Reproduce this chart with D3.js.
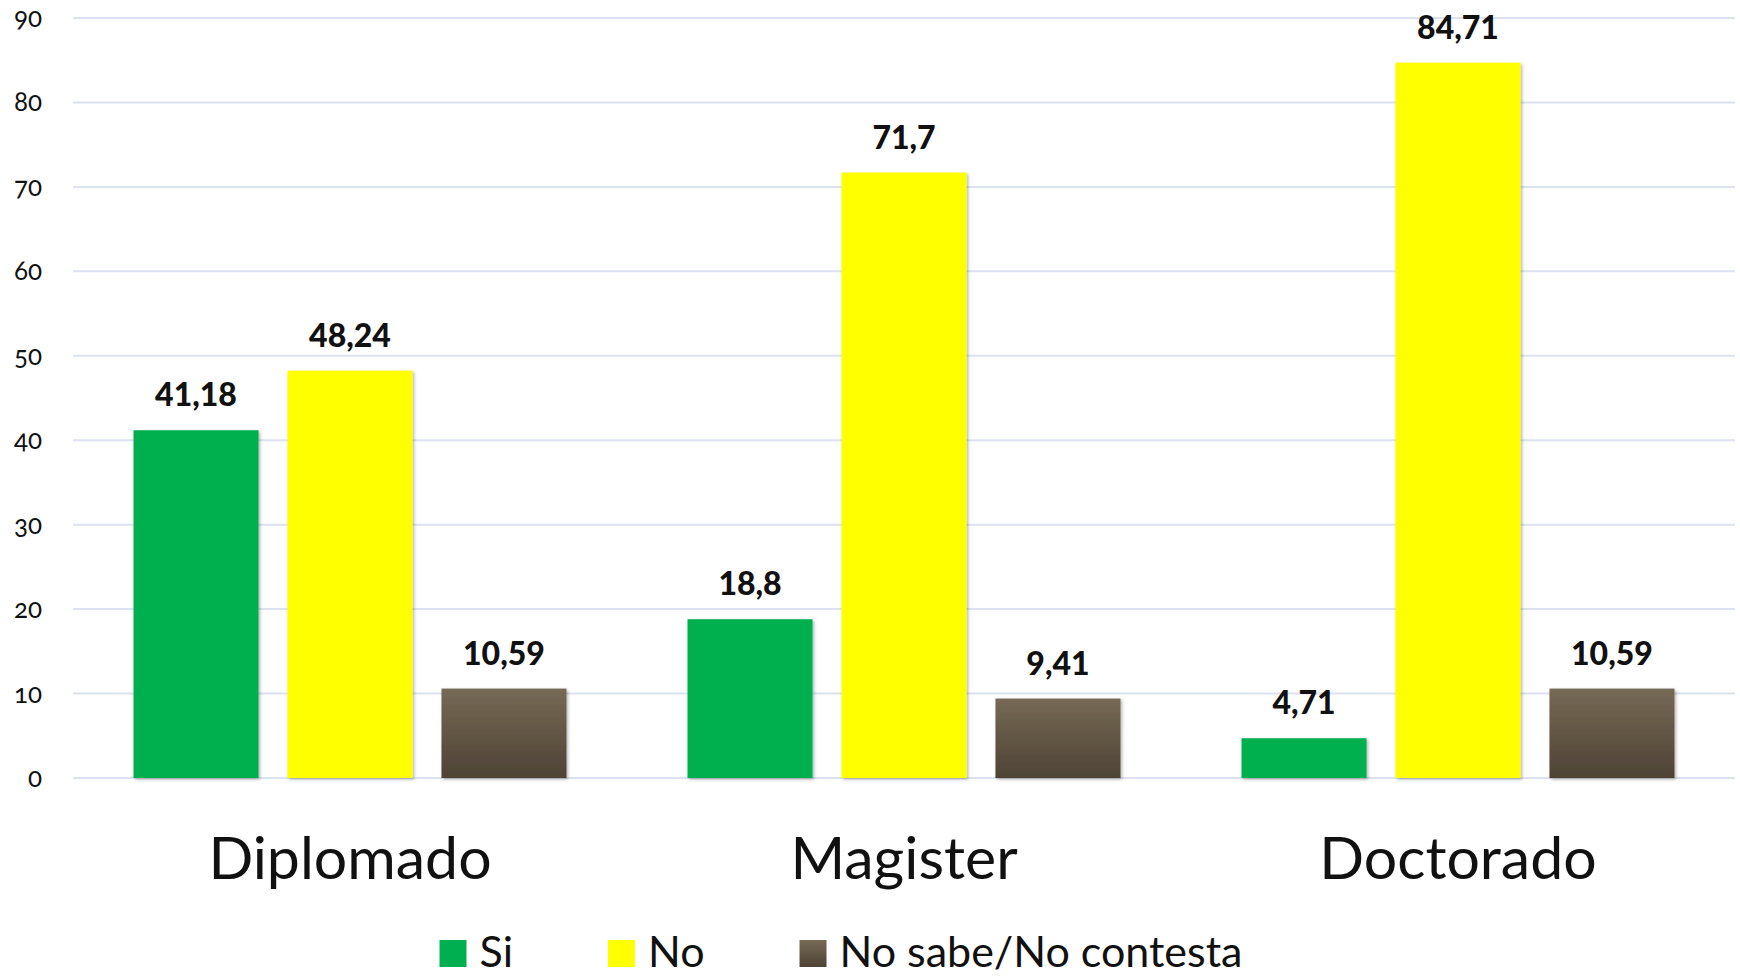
<!DOCTYPE html>
<html>
<head>
<meta charset="utf-8">
<script src="https://cdn.jsdelivr.net/npm/d3@7"></script>
<style>
  body { margin: 0; background: #fff; }
  svg { display: block; font-family: Lato, "Open Sans", sans-serif; }
  .tick-lbl { font-variant-numeric: oldstyle-nums; font-feature-settings: "onum"; }
</style>
</head>
<body>
<div id="chart"></div>
<script>
// données
const categories = ["Diplomado", "Magister", "Doctorado"];
const series = ["Si", "No", "No sabe/No contesta"];
const siValues = [41.18, 18.8, 4.71];
const noValues = [48.24, 71.7, 84.71];
const nsValues = [10.59, 9.41, 10.59];
const yTicks = [0, 10, 20, 30, 40, 50, 60, 70, 80, 90];

const W = 1740, H = 977;
const seriesValues = [siValues, noValues, nsValues];
const colors = ["#00B050", "#FFFF00", "url(#grad-ns)"];

const svg = d3.select("#chart").append("svg")
  .attr("width", W).attr("height", H);

const defs = svg.append("defs");
const grad = defs.append("linearGradient").attr("id", "grad-ns")
  .attr("x1", 0).attr("y1", 0).attr("x2", 0).attr("y2", 1);
grad.append("stop").attr("offset", "0%").attr("stop-color", "#766955");
grad.append("stop").attr("offset", "100%").attr("stop-color", "#4e4335");
const shadow = defs.append("filter").attr("id", "shadow")
  .attr("x", "-10%").attr("y", "-10%").attr("width", "130%").attr("height", "130%");
shadow.append("feDropShadow").attr("dx", 1.5).attr("dy", 1.5)
  .attr("stdDeviation", 1.5).attr("flood-color", "#000").attr("flood-opacity", 0.3);

// échelles
const y = d3.scaleLinear().domain([0, 90]).range([778, 18]);
const x0 = d3.scaleBand().domain(categories).range([73, 1735]).padding(0);
const x1 = d3.scaleBand().domain(series).range([0, x0.bandwidth()])
  .paddingInner(0.188).paddingOuter(0.393);

// grille
svg.append("g").selectAll("line")
  .data(yTicks).enter().append("line")
  .attr("x1", 73).attr("x2", 1735)
  .attr("y1", d => y(d)).attr("y2", d => y(d))
  .attr("stroke", "#dde2f0").attr("stroke-width", 2);

// étiquettes de l'axe y
svg.append("g").selectAll("text")
  .data(yTicks).enter().append("text")
  .attr("class", "tick-lbl")
  .attr("x", 42).attr("y", d => y(d) + 9)
  .attr("text-anchor", "end")
  .attr("font-size", 26).attr("fill", "#111")
  .text(d => d);

// barres
const groups = svg.append("g").selectAll("g")
  .data(categories).enter().append("g")
  .attr("transform", d => "translate(" + x0(d) + ",0)");

groups.selectAll("rect")
  .data((c, ci) => series.map((s, si) => ({ s: s, si: si, v: seriesValues[si][ci] })))
  .enter().append("rect")
  .attr("x", d => x1(d.s))
  .attr("y", d => y(d.v))
  .attr("width", x1.bandwidth())
  .attr("height", d => y(0) - y(d.v))
  .attr("fill", d => colors[d.si])
  .attr("filter", "url(#shadow)");

groups.selectAll("text")
  .data((c, ci) => series.map((s, si) => ({ s: s, si: si, v: seriesValues[si][ci] })))
  .enter().append("text")
  .attr("x", d => x1(d.s) + x1.bandwidth() / 2)
  .attr("y", d => y(d.v) - 24)
  .attr("text-anchor", "middle")
  .attr("font-size", 32).attr("font-weight", 900).attr("fill", "#111")
  .text(d => String(d.v).replace(".", ","));

// étiquettes des catégories
svg.append("g").selectAll("text")
  .data(categories).enter().append("text")
  .attr("x", d => x0(d) + x0.bandwidth() / 2)
  .attr("y", 879)
  .attr("text-anchor", "middle")
  .attr("font-size", 59).attr("fill", "#111")
  .text(d => d);

// légende
const legend = svg.append("g");
let lx = 0;
series.forEach((s, i) => {
  const item = legend.append("g").attr("transform", "translate(" + lx + ",0)");
  item.append("rect").attr("x", 0).attr("y", 940).attr("width", 27).attr("height", 27)
    .attr("fill", colors[i]);
  const t = item.append("text").attr("x", 40).attr("y", 967)
    .attr("font-size", 43).attr("fill", "#111").text(s);
  lx += 40 + t.node().getComputedTextLength() + 95;
});
const lw = lx - 95;
legend.attr("transform", "translate(" + (841 - lw / 2) + ",0)");
</script>
</body>
</html>
